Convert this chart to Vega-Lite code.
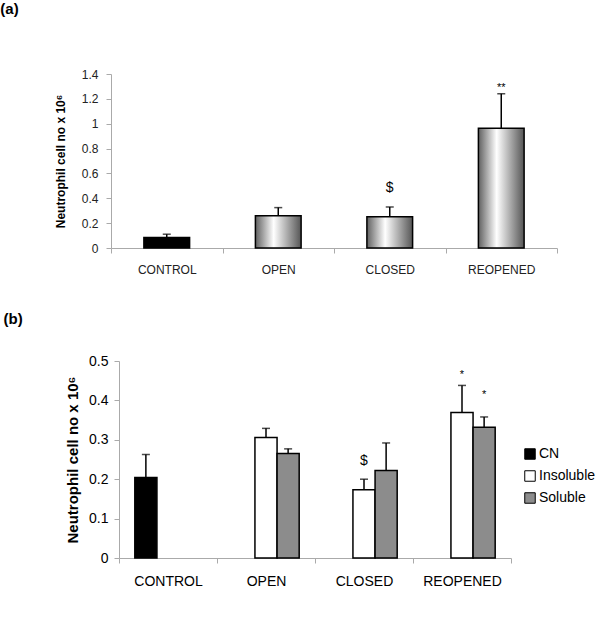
{
  "$schema": "https://vega.github.io/schema/vega-lite/v6.json",
  "padding": {"left": 0, "top": 2, "right": 0, "bottom": 0},
  "background": "white",
  "config": {"view": {"stroke": null}, "font": "Liberation Sans"},
  "resolve": {"legend": {"fill": "independent"}},
  "spacing": 37,
  "vconcat": [
    {
      "width": 446,
      "height": 174,
      "title": {"text": "(a)", "anchor": "start", "frame": "bounds", "fontSize": 15, "fontWeight": "bold", "font": "Liberation Sans", "color": "black", "offset": 51, "dx": -54},
      "data": {"values": [
        {"group": "CONTROL", "mean": 0.085, "err": 0.111, "sig": ""},
        {"group": "OPEN", "mean": 0.259, "err": 0.325, "sig": ""},
        {"group": "CLOSED", "mean": 0.251, "err": 0.33, "sig": "$"},
        {"group": "REOPENED", "mean": 0.964, "err": 1.241, "sig": "**"}
      ]},
      "encoding": {
        "x": {"field": "group", "type": "nominal", "sort": ["CONTROL", "OPEN", "CLOSED", "REOPENED"],
          "scale": {"paddingInner": 0, "paddingOuter": 0},
          "axis": {"title": null, "labelAngle": 0, "labelFontSize": 12, "labelColor": "#222", "labelPadding": 11, "domainColor": "#aaa", "tickColor": "#aaa", "tickSize": 5, "tickBand": "extent"}}
      },
      "layer": [
        {"mark": {"type": "rule", "color": "black", "strokeWidth": 1.5},
          "encoding": {"y": {"field": "mean", "type": "quantitative", "scale": {"domain": [0, 1.4]},
            "axis": {"values": [0, 0.2, 0.4, 0.6, 0.8, 1, 1.2, 1.4], "format": "~g", "grid": false,
              "title": "Neutrophil cell no x 10⁶", "titleFontSize": 12, "titleFontWeight": "bold", "titleColor": "black",
              "titlePadding": 14, "labelFontSize": 12, "labelColor": "#222", "labelPadding": 8,
              "domainColor": "#aaa", "tickColor": "#aaa", "tickSize": 5}}, "y2": {"field": "err"}}},
        {"mark": {"type": "tick", "color": "black", "size": 8, "thickness": 1.5},
          "encoding": {"y": {"field": "err", "type": "quantitative", "scale": {"domain": [0, 1.4]},
            "axis": {"values": [0, 0.2, 0.4, 0.6, 0.8, 1, 1.2, 1.4], "format": "~g", "grid": false,
              "title": "Neutrophil cell no x 10⁶", "titleFontSize": 12, "titleFontWeight": "bold", "titleColor": "black",
              "titlePadding": 14, "labelFontSize": 12, "labelColor": "#222", "labelPadding": 8,
              "domainColor": "#aaa", "tickColor": "#aaa", "tickSize": 5}}}},
        {"transform": [{"filter": "datum.group !== 'CONTROL'"}],
          "mark": {"type": "bar", "width": {"band": 0.41}, "stroke": "black", "strokeWidth": 1.5,
            "fill": {"gradient": "linear", "x1": 0, "x2": 1, "y1": 0, "y2": 0, "stops": [
              {"offset": 0, "color": "#606060"}, {"offset": 0.4, "color": "#ffffff"}, {"offset": 1, "color": "#555555"}]}},
          "encoding": {"y": {"field": "mean", "type": "quantitative", "scale": {"domain": [0, 1.4]},
            "axis": {"values": [0, 0.2, 0.4, 0.6, 0.8, 1, 1.2, 1.4], "format": "~g", "grid": false,
              "title": "Neutrophil cell no x 10⁶", "titleFontSize": 12, "titleFontWeight": "bold", "titleColor": "black",
              "titlePadding": 14, "labelFontSize": 12, "labelColor": "#222", "labelPadding": 8,
              "domainColor": "#aaa", "tickColor": "#aaa", "tickSize": 5}}}},
        {"transform": [{"filter": "datum.group === 'CONTROL'"}],
          "mark": {"type": "bar", "width": {"band": 0.41}, "stroke": "black", "strokeWidth": 1.5, "fill": "black"},
          "encoding": {"y": {"field": "mean", "type": "quantitative", "scale": {"domain": [0, 1.4]},
            "axis": {"values": [0, 0.2, 0.4, 0.6, 0.8, 1, 1.2, 1.4], "format": "~g", "grid": false,
              "title": "Neutrophil cell no x 10⁶", "titleFontSize": 12, "titleFontWeight": "bold", "titleColor": "black",
              "titlePadding": 14, "labelFontSize": 12, "labelColor": "#222", "labelPadding": 8,
              "domainColor": "#aaa", "tickColor": "#aaa", "tickSize": 5}}}},
        {"transform": [{"filter": "datum.sig === '$'"}],
          "mark": {"type": "text", "fontSize": 14, "baseline": "middle", "dy": -19, "color": "black"},
          "encoding": {"y": {"field": "err", "type": "quantitative", "scale": {"domain": [0, 1.4]},
            "axis": {"values": [0, 0.2, 0.4, 0.6, 0.8, 1, 1.2, 1.4], "format": "~g", "grid": false,
              "title": "Neutrophil cell no x 10⁶", "titleFontSize": 12, "titleFontWeight": "bold", "titleColor": "black",
              "titlePadding": 14, "labelFontSize": 12, "labelColor": "#222", "labelPadding": 8,
              "domainColor": "#aaa", "tickColor": "#aaa", "tickSize": 5}}, "text": {"field": "sig"}}},
        {"transform": [{"filter": "datum.sig === '**'"}],
          "mark": {"type": "text", "fontSize": 11, "baseline": "middle", "dy": -6, "color": "black"},
          "encoding": {"y": {"field": "err", "type": "quantitative", "scale": {"domain": [0, 1.4]},
            "axis": {"values": [0, 0.2, 0.4, 0.6, 0.8, 1, 1.2, 1.4], "format": "~g", "grid": false,
              "title": "Neutrophil cell no x 10⁶", "titleFontSize": 12, "titleFontWeight": "bold", "titleColor": "black",
              "titlePadding": 14, "labelFontSize": 12, "labelColor": "#222", "labelPadding": 8,
              "domainColor": "#aaa", "tickColor": "#aaa", "tickSize": 5}}, "text": {"field": "sig"}}}
      ]
    },
    {
      "width": 400,
      "height": 197,
      "title": {"text": "(b)", "anchor": "start", "frame": "bounds", "fontSize": 15, "fontWeight": "bold", "font": "Liberation Sans", "color": "black", "offset": 27, "dx": -62},
      "data": {"values": [
        {"group": "CONTROL", "type": "CN", "mean": 0.204, "err": 0.263, "sig": ""},
        {"group": "OPEN", "type": "Insoluble", "mean": 0.306, "err": 0.329, "sig": ""},
        {"group": "OPEN", "type": "Soluble", "mean": 0.265, "err": 0.277, "sig": ""},
        {"group": "CLOSED", "type": "Insoluble", "mean": 0.173, "err": 0.2, "sig": "$"},
        {"group": "CLOSED", "type": "Soluble", "mean": 0.222, "err": 0.292, "sig": ""},
        {"group": "REOPENED", "type": "Insoluble", "mean": 0.369, "err": 0.438, "sig": "*"},
        {"group": "REOPENED", "type": "Soluble", "mean": 0.332, "err": 0.358, "sig": "*"}
      ]},
      "encoding": {
        "x": {"field": "group", "type": "nominal", "sort": ["CONTROL", "OPEN", "CLOSED", "REOPENED"],
          "scale": {"paddingInner": 0, "paddingOuter": 0, "range": [8, 400]},
          "axis": {"title": null, "labelAngle": 0, "labelFontSize": 14, "labelColor": "black", "labelPadding": 11, "domainColor": "#aaa", "tickColor": "#aaa", "tickSize": 5, "tickBand": "extent"}},
        "xOffset": {"field": "type", "type": "nominal", "scale": {"domain": ["CN", "Insoluble", "Soluble"], "paddingInner": 0, "paddingOuter": 0.715}}
      },
      "layer": [
        {"mark": {"type": "rule", "color": "black", "strokeWidth": 1.5},
          "encoding": {"y": {"field": "mean", "type": "quantitative", "scale": {"domain": [0, 0.5]},
              "axis": {"values": [0, 0.1, 0.2, 0.3, 0.4, 0.5], "format": "~g", "grid": false, "offset": -8,
                "title": "Neutrophil cell no x 10⁶", "titleFontSize": 15, "titleFontWeight": "bold", "titleColor": "black",
                "titlePadding": 8, "labelFontSize": 14, "labelColor": "black", "labelPadding": 6,
                "domainColor": "#aaa", "tickColor": "#aaa", "tickSize": 5}}, "y2": {"field": "err"}}},
        {"mark": {"type": "tick", "color": "black", "size": 8, "thickness": 1.5},
          "encoding": {"y": {"field": "err", "type": "quantitative", "scale": {"domain": [0, 0.5]},
              "axis": {"values": [0, 0.1, 0.2, 0.3, 0.4, 0.5], "format": "~g", "grid": false, "offset": -8,
                "title": "Neutrophil cell no x 10⁶", "titleFontSize": 15, "titleFontWeight": "bold", "titleColor": "black",
                "titlePadding": 8, "labelFontSize": 14, "labelColor": "black", "labelPadding": 6,
                "domainColor": "#aaa", "tickColor": "#aaa", "tickSize": 5}}}},
        {"mark": {"type": "bar", "stroke": "black", "strokeWidth": 1.5},
          "encoding": {
            "y": {"field": "mean", "type": "quantitative", "scale": {"domain": [0, 0.5]},
              "axis": {"values": [0, 0.1, 0.2, 0.3, 0.4, 0.5], "format": "~g", "grid": false, "offset": -8,
                "title": "Neutrophil cell no x 10⁶", "titleFontSize": 15, "titleFontWeight": "bold", "titleColor": "black",
                "titlePadding": 8, "labelFontSize": 14, "labelColor": "black", "labelPadding": 6,
                "domainColor": "#aaa", "tickColor": "#aaa", "tickSize": 5}},
            "fill": {"field": "type", "type": "nominal",
              "scale": {"domain": ["CN", "Insoluble", "Soluble"], "range": ["#000000", "#ffffff", "#8c8c8c"]},
              "legend": {"title": null, "orient": "none", "legendX": 412, "legendY": 86, "symbolType": "square", "symbolSize": 110,
                "symbolStrokeColor": "black", "symbolStrokeWidth": 1, "labelFontSize": 14, "labelColor": "black", "rowPadding": 6, "labelOffset": 2}}}},
        {"transform": [{"filter": "datum.sig === '$'"}],
          "mark": {"type": "text", "fontSize": 14, "baseline": "middle", "dy": -18, "color": "black"},
          "encoding": {"y": {"field": "err", "type": "quantitative", "scale": {"domain": [0, 0.5]},
              "axis": {"values": [0, 0.1, 0.2, 0.3, 0.4, 0.5], "format": "~g", "grid": false, "offset": -8,
                "title": "Neutrophil cell no x 10⁶", "titleFontSize": 15, "titleFontWeight": "bold", "titleColor": "black",
                "titlePadding": 8, "labelFontSize": 14, "labelColor": "black", "labelPadding": 6,
                "domainColor": "#aaa", "tickColor": "#aaa", "tickSize": 5}}, "text": {"field": "sig"}}},
        {"transform": [{"filter": "datum.sig === '*' && datum.type === 'Insoluble'"}],
          "mark": {"type": "text", "fontSize": 11, "baseline": "middle", "dy": -10, "color": "black"},
          "encoding": {"y": {"field": "err", "type": "quantitative", "scale": {"domain": [0, 0.5]},
              "axis": {"values": [0, 0.1, 0.2, 0.3, 0.4, 0.5], "format": "~g", "grid": false, "offset": -8,
                "title": "Neutrophil cell no x 10⁶", "titleFontSize": 15, "titleFontWeight": "bold", "titleColor": "black",
                "titlePadding": 8, "labelFontSize": 14, "labelColor": "black", "labelPadding": 6,
                "domainColor": "#aaa", "tickColor": "#aaa", "tickSize": 5}}, "text": {"field": "sig"}}},
        {"transform": [{"filter": "datum.sig === '*' && datum.type === 'Soluble'"}],
          "mark": {"type": "text", "fontSize": 11, "baseline": "middle", "dy": -22, "color": "black"},
          "encoding": {"y": {"field": "err", "type": "quantitative", "scale": {"domain": [0, 0.5]},
              "axis": {"values": [0, 0.1, 0.2, 0.3, 0.4, 0.5], "format": "~g", "grid": false, "offset": -8,
                "title": "Neutrophil cell no x 10⁶", "titleFontSize": 15, "titleFontWeight": "bold", "titleColor": "black",
                "titlePadding": 8, "labelFontSize": 14, "labelColor": "black", "labelPadding": 6,
                "domainColor": "#aaa", "tickColor": "#aaa", "tickSize": 5}}, "text": {"field": "sig"}}}
      ]
    }
  ]
}
